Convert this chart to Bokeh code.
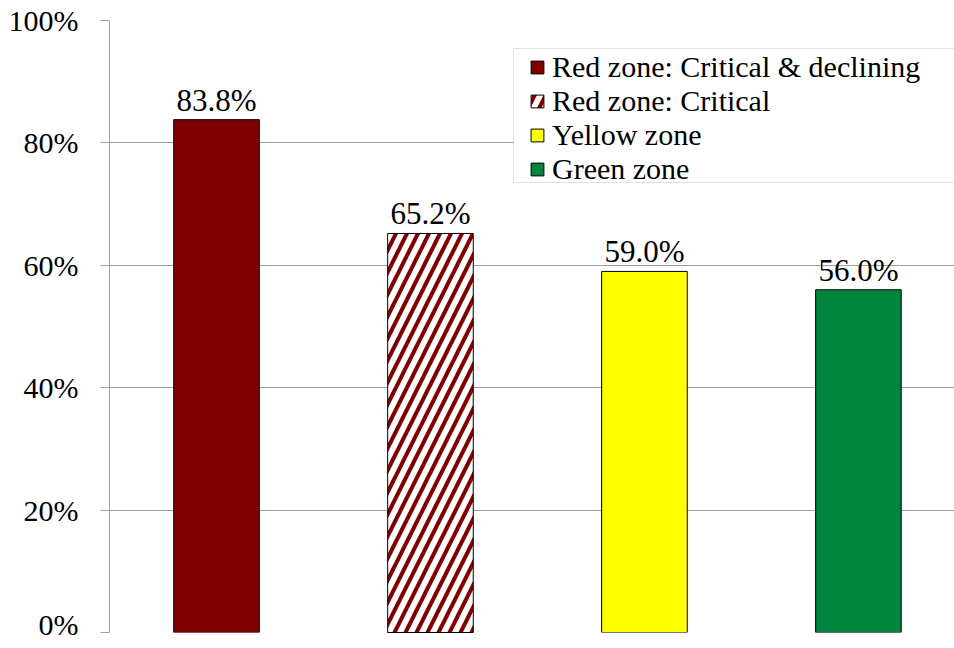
from bokeh.plotting import figure
from bokeh.models import ColumnDataSource, Range1d, Legend, LegendItem, FixedTicker, CustomJSTickFormatter, BoxAnnotation
from bokeh.core.properties import value
from bokeh.embed import file_html
from bokeh.resources import INLINE

categories = ["Red zone: Critical & declining", "Red zone: Critical", "Yellow zone", "Green zone"]
values = [83.8, 65.2, 59.0, 56.0]
colors = ["#800000", "#FFFFFF", "#FFFF00", "#00853E"]
hatches = [None, "/", None, None]
labels = ["83.8%", "65.2%", "59.0%", "56.0%"]
y_ticks = [0, 20, 40, 60, 80, 100]

FONT = "Liberation Serif"

p = figure(width=954, height=640, output_backend="svg", toolbar_location=None,
           x_range=Range1d(0, 3.949), y_range=Range1d(0, 100),
           min_border_left=109, min_border_right=0, min_border_top=20, min_border_bottom=8)
p.outline_line_color = None
p.xaxis.visible = False
p.xgrid.visible = False

yax = p.yaxis[0]
yax.ticker = FixedTicker(ticks=y_ticks)
yax.formatter = CustomJSTickFormatter(code="return tick.toFixed(0) + '%';")
yax.axis_line_color = "#A0A0A0"
yax.major_tick_line_color = "#A0A0A0"
yax.major_tick_out = 9
yax.major_tick_in = 0
yax.minor_tick_line_color = None
yax.major_label_text_font = FONT
yax.major_label_text_font_size = "30px"
yax.major_label_text_color = "black"
yax.major_label_standoff = 22

p.ygrid.ticker = FixedTicker(ticks=y_ticks)
p.ygrid.grid_line_color = "#A0A0A0"
p.ygrid.grid_line_width = 1

# value labels (drawn first)
lsrc = ColumnDataSource(dict(x=[i + 0.5 for i in range(len(values))], y=values, t=labels))
p.text(x="x", y="y", text="t", source=lsrc, text_align="center", text_baseline="bottom",
       y_offset=-2, text_font=value(FONT), text_font_size="31px", text_color="black")

items = []
for i, (cat, v, c, h) in enumerate(zip(categories, values, colors, hatches)):
    src = ColumnDataSource(dict(x=[i + 0.5], top=[v]))
    if h is None:
        r = p.vbar(x="x", top="top", width=0.40, bottom=0, source=src,
                   fill_color=c, line_color="black", line_width=1)
    else:
        r = p.vbar(x="x", top="top", width=0.40, bottom=0, source=src,
                   fill_color=c, line_color="black", line_width=1, level="overlay",
                   hatch_pattern=h, hatch_color="#800000", hatch_scale=22, hatch_weight=4)
    items.append(LegendItem(label=cat, renderers=[r]))

# legend frame (screen units, relative to frame bottom-left)
box = BoxAnnotation(left=404, right=900, top=584, bottom=450,
                    left_units="screen", right_units="screen", top_units="screen", bottom_units="screen",
                    fill_color="white", fill_alpha=1, line_color="#A0A0A0", line_width=1, level="annotation")
p.add_layout(box)

legend = Legend(items=items, location=(420, 446), orientation="vertical")
legend.label_text_font = FONT
legend.label_text_font_size = "30px"
legend.label_text_color = "black"
legend.label_height = 33
legend.glyph_height = 16
legend.glyph_width = 16
legend.label_standoff = 7
legend.spacing = 0
legend.padding = 1
legend.margin = 0
legend.border_line_color = None
legend.background_fill_alpha = 0
p.add_layout(legend, "center")

open("out.html", "w").write(file_html(p, INLINE))
